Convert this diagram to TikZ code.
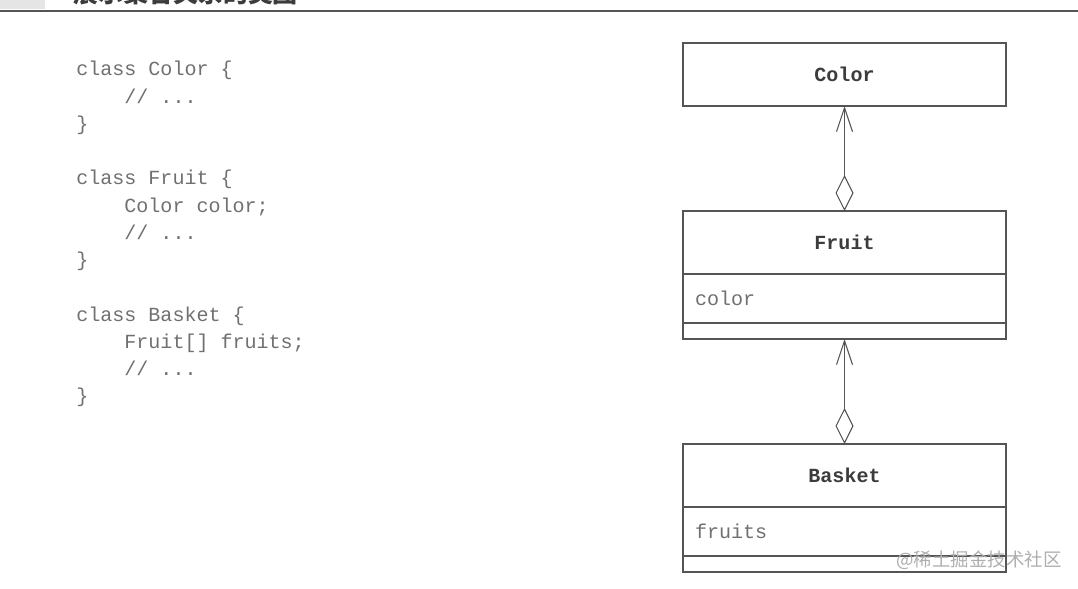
\documentclass[tikz,border=0pt]{standalone}
\usepackage{fontspec}
\setmonofont{Liberation Mono}
\newfontfamily\cjk{Noto Sans CJK SC}
\usepackage{tikz}
\usetikzlibrary{arrows.meta,positioning}

\definecolor{linegray}{HTML}{555555}
\definecolor{codegray}{HTML}{707070}
\definecolor{namegray}{HTML}{3C3C3C}
\definecolor{markgray}{HTML}{AEAEAE}

\tikzset{
  classname/.style={draw=linegray, line width=0.6pt, minimum width=6.46cm,
    minimum height=1.26cm, inner sep=0pt, outer sep=0pt, text=namegray,
    font=\ttfamily\bfseries\fontsize{11.4pt}{14pt}\selectfont},
  classattr/.style={draw=linegray, line width=0.6pt, minimum height=0.98cm,
    text width=5.98cm, inner xsep=0.24cm, inner ysep=0pt, outer sep=0pt,
    align=left, text=codegray, font=\ttfamily\fontsize{11.4pt}{14pt}\selectfont},
  classops/.style={draw=linegray, line width=0.6pt, minimum width=6.46cm,
    minimum height=0.32cm, inner sep=0pt, outer sep=0pt},
  aggr/.style={draw=linegray, line width=0.6pt, line join=miter,
    {Diamond[open,length=0.72cm,width=0.36cm]}-{Straight Barb[length=0.48cm,width=0.32cm]}}
}

\begin{document}
\begin{tikzpicture}
\useasboundingbox (0,0) rectangle (21.56,-11.78);

% header
\fill [gray!20] (0,0) rectangle (0.9,-0.18);
\node [anchor=base west, inner sep=0pt, font=\cjk\bfseries\fontsize{14.2pt}{16pt}\selectfont, text=namegray] (title) at (1.46,-0.06) {展示聚合关系的类图};
\draw [linegray, line width=0.85pt] (0,-0.22) -- (21.56,-0.22);

% code
\node [anchor=north west, inner sep=0pt, align=left, text=codegray,
  font=\ttfamily\fontsize{11.4pt}{15.5pt}\selectfont] (code) at (1.52,-1.22) {%
class Color \{\\
\hspace*{2.4em}// ...\\
\}\\
~\\
class Fruit \{\\
\hspace*{2.4em}Color color;\\
\hspace*{2.4em}// ...\\
\}\\
~\\
class Basket \{\\
\hspace*{2.4em}Fruit[] fruits;\\
\hspace*{2.4em}// ...\\
\}};

% classes
\node [classname] (color) at (16.89,-1.49) {Color};

\node [classname, below=2.1cm of color] (fruit) {Fruit};
\node [classattr, below=0pt of fruit] (fruitattr) {color};
\node [classops, below=0pt of fruitattr] (fruitops) {};

\node [classname, below=2.1cm of fruitops] (basket) {Basket};
\node [classattr, below=0pt of basket] (basketattr) {fruits};
\node [classops, below=0pt of basketattr] (basketops) {};

% aggregation
\draw [aggr] (fruit.north) -- (color.south);
\draw [aggr] (basket.north) -- (fruitops.south);

% watermark
\node [font=\cjk\fontsize{10.5pt}{12pt}\selectfont, text=markgray, inner sep=0pt] (mark) at (19.58,-11.2) {@稀土掘金技术社区};
\end{tikzpicture}
\end{document}
